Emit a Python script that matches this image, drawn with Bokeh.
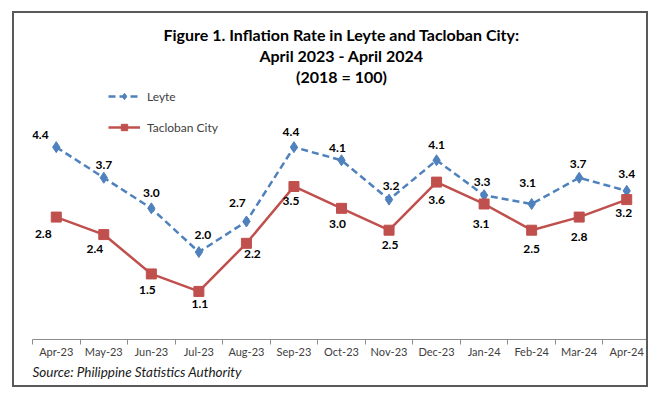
from bokeh.plotting import figure
from bokeh.models import (ColumnDataSource, Range1d, FixedTicker, Title, Legend,
                          LegendItem)
from bokeh.core.properties import value
from bokeh.embed import file_html
from bokeh.resources import INLINE

months = ["Apr-23", "May-23", "Jun-23", "Jul-23", "Aug-23", "Sep-23", "Oct-23",
          "Nov-23", "Dec-23", "Jan-24", "Feb-24", "Mar-24", "Apr-24"]
leyte = [4.4, 3.7, 3.0, 2.0, 2.7, 4.4, 4.1, 3.2, 4.1, 3.3, 3.1, 3.7, 3.4]
tacloban = [2.8, 2.4, 1.5, 1.1, 2.2, 3.5, 3.0, 2.5, 3.6, 3.1, 2.5, 2.8, 3.2]
title_lines = ["Figure 1. Inflation Rate in Leyte and Tacloban City:",
               "April 2023 - April 2024", "(2018 = 100)"]
source_text = "Source: Philippine Statistics Authority"

# label pixel offsets (style only)
leyte_dx = [-16, 0, 0, 4, -9, -3, -4, 2, 0, -2, -4, -1, 0]
leyte_dy = [-12, -13, -15, -17, -18, -15, -12, -14, -15, -13, -21, -14, -17]
tac_dx = [-13, -9, -4, 1, 6, -3, -4, 1, 0, -3, 0, 0, -3]
tac_dy = [17, 14, 16, 13, 11, 15, 16, 15, 18, 20, 19, 20, 13]

FONT = "Lato"
BLUE = "#4F81BD"
RED = "#C0504D"

xs = list(range(len(months)))
src_l = ColumnDataSource(dict(x=xs, y=leyte, t=["%.1f" % v for v in leyte],
                              dx=leyte_dx, dy=leyte_dy))
src_t = ColumnDataSource(dict(x=xs, y=tacloban, t=["%.1f" % v for v in tacloban],
                              dx=tac_dx, dy=tac_dy))

p = figure(width=636, height=376, output_backend="svg", toolbar_location=None,
           x_range=Range1d(-0.5, 12.5), y_range=Range1d(0, 5.81),
           y_axis_location=None, min_border_left=18, min_border_right=0,
           min_border_top=72, min_border_bottom=50)
p.styles = {"border": "2px solid #595959", "margin-left": "12px", "margin-top": "11px"}
p.outline_line_color = None
p.xgrid.visible = False
p.ygrid.visible = False
p.background_fill_color = "white"
p.border_fill_color = "white"

ax = p.xaxis[0]
ax.ticker = FixedTicker(ticks=xs, minor_ticks=[i - 0.5 for i in range(len(months) + 1)])
ax.major_label_overrides = {i: m for i, m in enumerate(months)}
ax.major_tick_in = 0
ax.major_tick_out = 0
ax.minor_tick_in = 0
ax.minor_tick_out = 5
ax.axis_line_color = "#8c8c8c"
ax.minor_tick_line_color = "#8c8c8c"
ax.major_label_standoff = 0
ax.major_label_text_font = FONT
ax.major_label_text_font_size = "11px"
ax.major_label_text_color = "#404040"

for line in reversed(title_lines):
    p.add_layout(Title(text=line, align="center", text_font=FONT,
                       text_font_size="16px", text_font_style="bold",
                       text_color="#000000", standoff=0), "above")

p.add_layout(Title(text=source_text, align="left", text_font=FONT,
                   text_font_size="13.5px", text_font_style="italic",
                   text_color="#1a1a1a", standoff=3), "below")

rl = p.line("x", "y", source=src_l, line_color=BLUE, line_width=2.5, line_dash="7 4")
ml = p.scatter("x", "y", source=src_l, marker="diamond", size=11, fill_color=BLUE,
               line_color=BLUE)
rt = p.line("x", "y", source=src_t, line_color=RED, line_width=2.5)
mt = p.scatter("x", "y", source=src_t, marker="square", size=10, fill_color=RED,
               line_color=RED)

for s in (src_l, src_t):
    p.text("x", "y", text="t", source=s, x_offset="dx", y_offset="dy",
           text_align="center", text_baseline="middle", text_font=value(FONT),
           text_font_size="12px", text_font_style="bold", text_color="#000000")

legend = Legend(items=[LegendItem(label="Leyte", renderers=[rl, ml]),
                       LegendItem(label="Tacloban City", renderers=[rt, mt])],
                location=(76, 204), orientation="vertical", glyph_width=32,
                glyph_height=16, spacing=15, padding=0, margin=0,
                label_standoff=7, label_text_font=FONT, label_text_font_size="12px",
                label_text_color="#404040", border_line_color=None,
                background_fill_alpha=0)
p.add_layout(legend, "center")

open("out.html", "w").write(file_html(p, INLINE))
